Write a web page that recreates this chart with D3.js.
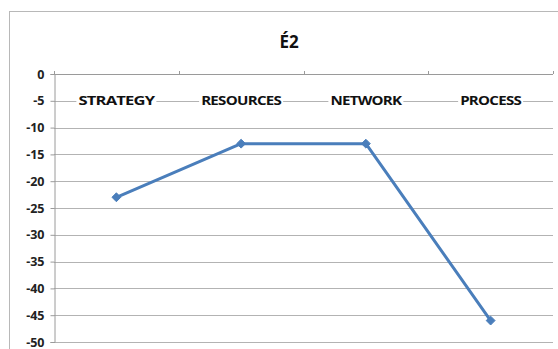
<!DOCTYPE html>
<html>
<head>
<meta charset="utf-8">
<script src="https://cdn.jsdelivr.net/npm/d3@7"></script>
<style>
  html, body { margin: 0; padding: 0; background: #fff; }
  svg { display: block; }
  text { font-family: "Open Sans", "Liberation Sans", sans-serif; }
</style>
</head>
<body>
<svg id="chart" width="558" height="349"></svg>
<script>
const title = "É2";
const categories = ["STRATEGY", "RESOURCES", "NETWORK", "PROCESS"];
const values = [-23, -13, -13, -46];
const yTicks = [0, -5, -10, -15, -20, -25, -30, -35, -40, -45, -50];

const svg = d3.select("#chart");
const W = 558, H = 349;
const plot = { left: 54, right: 553, top: 74, bottom: 342 };

// Outer chart frame
svg.append("rect")
  .attr("x", 9.5).attr("y", 11.5)
  .attr("width", W).attr("height", H)
  .attr("fill", "#fff").attr("stroke", "#b8b8b8").attr("stroke-width", 1);

// Title
svg.append("text")
  .attr("x", 289).attr("y", 48)
  .attr("text-anchor", "middle")
  .attr("font-size", 17).attr("font-weight", 700)
  .attr("fill", "#111")
  .text(title);

const x = d3.scaleBand().domain(categories).range([plot.left, plot.right]);
const y = d3.scaleLinear().domain([-50, 0]).range([plot.bottom, plot.top]);

// Horizontal gridlines
svg.append("g")
  .selectAll("line")
  .data(yTicks.filter(d => d !== 0))
  .join("line")
  .attr("x1", plot.left).attr("x2", plot.right)
  .attr("y1", d => Math.round(y(d)) + 0.5).attr("y2", d => Math.round(y(d)) + 0.5)
  .attr("stroke", "#b3b3b3").attr("stroke-width", 1);

// Y axis (plain hyphen for negative labels)
const yAxis = svg.append("g")
  .attr("transform", `translate(${plot.left + 0.5},0)`)
  .call(d3.axisLeft(y).tickValues(yTicks).tickSize(4).tickPadding(6).tickFormat(d => String(d)));
yAxis.select(".domain").attr("stroke", "#9a9a9a");
yAxis.selectAll(".tick line").attr("stroke", "#9a9a9a");
yAxis.selectAll(".tick text")
  .attr("font-family", "\"Open Sans\", sans-serif")
  .attr("font-size", 12.5).attr("font-weight", 700).attr("fill", "#222");

// Category axis along the zero line, ticks pointing up between categories
const xAxisG = svg.append("g");
xAxisG.append("line")
  .attr("x1", plot.left).attr("x2", plot.right)
  .attr("y1", y(0) + 0.5).attr("y2", y(0) + 0.5)
  .attr("stroke", "#9a9a9a");
const boundaries = categories.map(c => x(c)).concat([x(categories[categories.length - 1]) + x.bandwidth()]);
xAxisG.selectAll("line.tk")
  .data(boundaries)
  .join("line")
  .attr("class", "tk")
  .attr("x1", d => Math.round(d) + 0.5).attr("x2", d => Math.round(d) + 0.5)
  .attr("y1", y(0) - 3).attr("y2", y(0))
  .attr("stroke", "#9a9a9a");

// Category labels (white backing so gridline passes behind them)
const labelWidths = [76, 80, 71, 61];
const labels = xAxisG.selectAll("g.lbl")
  .data(categories)
  .join("g")
  .attr("class", "lbl")
  .attr("transform", d => `translate(${x(d) + x.bandwidth() / 2},${y(-5)})`);
labels.append("rect")
  .attr("x", (d, i) => -labelWidths[i] / 2 - 2).attr("y", -6)
  .attr("width", (d, i) => labelWidths[i] + 4).attr("height", 13)
  .attr("fill", "#fff");
labels.append("text")
  .attr("text-anchor", "middle")
  .attr("dy", "0.36em")
  .attr("font-family", "\"Open Sans\", sans-serif")
  .attr("font-size", 12.5).attr("font-weight", 700)
  .attr("letter-spacing", -0.6)
  .attr("textLength", (d, i) => labelWidths[i])
  .attr("lengthAdjust", "spacingAndGlyphs")
  .attr("fill", "#111")
  .text(d => d);

// Series line
const pts = categories.map((c, i) => [x(c) + x.bandwidth() / 2, y(values[i])]);
svg.append("path")
  .attr("d", d3.line()(pts))
  .attr("fill", "none")
  .attr("stroke", "#4a7ebb")
  .attr("stroke-width", 3)
  .attr("stroke-linejoin", "round");

// Diamond markers
svg.append("g")
  .selectAll("path")
  .data(pts)
  .join("path")
  .attr("transform", d => `translate(${d[0]},${d[1]})`)
  .attr("d", d3.symbol().type(d3.symbolDiamond2).size(50))
  .attr("fill", "#4a7ebb")
  .attr("stroke", "#4a7ebb");
</script>
</body>
</html>
